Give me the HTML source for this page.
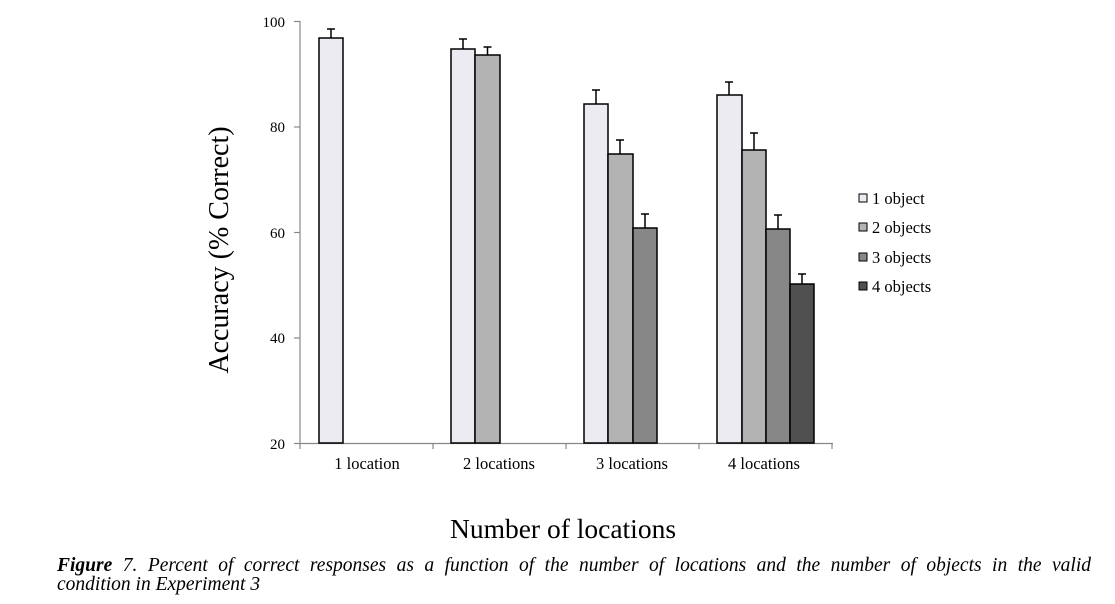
<!DOCTYPE html>
<html><head><style>
body{margin:0;background:#fff;width:1115px;height:604px;overflow:hidden;position:relative;font-family:"Liberation Serif",serif}
.cap{position:absolute;left:57px;width:1034px;font-size:19.5px;font-style:italic;line-height:19px;color:#000;white-space:nowrap}
.l1{top:556px;text-align:justify;text-align-last:justify}
.l2{top:575px}
</style></head><body>
<svg width="1115" height="604" style="position:absolute;left:0;top:0" font-family="Liberation Serif, serif">
<g stroke="#888" stroke-width="1.2" fill="none">
<line x1="300" y1="21" x2="300" y2="443"/>
<line x1="300" y1="443.5" x2="833" y2="443.5"/>
<line x1="294" y1="21.5" x2="300" y2="21.5"/>
<line x1="294" y1="127" x2="300" y2="127"/>
<line x1="294" y1="232.5" x2="300" y2="232.5"/>
<line x1="294" y1="338" x2="300" y2="338"/>
<line x1="294" y1="443.5" x2="300" y2="443.5"/>
<line x1="300" y1="443" x2="300" y2="449"/>
<line x1="433" y1="443" x2="433" y2="449"/>
<line x1="566" y1="443" x2="566" y2="449"/>
<line x1="699" y1="443" x2="699" y2="449"/>
<line x1="832" y1="443" x2="832" y2="449"/>
</g>
<g font-size="15" text-anchor="end" fill="#000">
<text x="285" y="27">100</text><text x="285" y="132">80</text><text x="285" y="238">60</text><text x="285" y="343">40</text><text x="285" y="449">20</text>
</g>
<g font-size="16.5" text-anchor="middle" fill="#000">
<text x="367" y="469">1 location</text><text x="499" y="469">2 locations</text><text x="632" y="469">3 locations</text><text x="764" y="469">4 locations</text>
</g>
<text transform="translate(228,250) rotate(-90)" text-anchor="middle" font-size="28">Accuracy (% Correct)</text>
<text x="563" y="538" text-anchor="middle" font-size="27.5">Number of locations</text>
<g stroke="#000" stroke-width="1.5">
<path d="M331 38V29M327 29H335M463 49V39M459 39H467M487.5 55V47M483.5 47H491.5M596 104V90M592 90H600M620 154V140M616 140H624M645 228V214M641 214H649M729 95V82M725 82H733M754 150V133M750 133H758M778 229V215M774 215H782M802 284V274M798 274H806" fill="none"/>
<rect x="319" y="38" width="24" height="405" fill="#edebf2"/>
<rect x="451" y="49" width="24" height="394" fill="#edebf2"/>
<rect x="475" y="55" width="25" height="388" fill="#b3b3b3"/>
<rect x="584" y="104" width="24" height="339" fill="#edebf2"/>
<rect x="608" y="154" width="25" height="289" fill="#b3b3b3"/>
<rect x="633" y="228" width="24" height="215" fill="#878787"/>
<rect x="717" y="95" width="25" height="348" fill="#edebf2"/>
<rect x="742" y="150" width="24" height="293" fill="#b3b3b3"/>
<rect x="766" y="229" width="24" height="214" fill="#878787"/>
<rect x="790" y="284" width="24" height="159" fill="#505050"/>
<rect x="859" y="194" width="8" height="8" fill="#edebf2" stroke-width="1"/>
<rect x="859" y="223" width="8" height="8" fill="#b3b3b3" stroke-width="1"/>
<rect x="859" y="253" width="8" height="8" fill="#878787" stroke-width="1"/>
<rect x="859" y="282" width="8" height="8" fill="#505050" stroke-width="1"/>
</g>
<g font-size="16.5" fill="#000">
<text x="872" y="204">1 object</text><text x="872" y="233">2 objects</text><text x="872" y="263">3 objects</text><text x="872" y="292">4 objects</text>
</g>
</svg>
<div class="cap l1"><b>Figure</b> 7. Percent of correct responses as a function of the number of locations and the number of objects in the valid</div>
<div class="cap l2">condition in Experiment 3</div>
</body></html>
